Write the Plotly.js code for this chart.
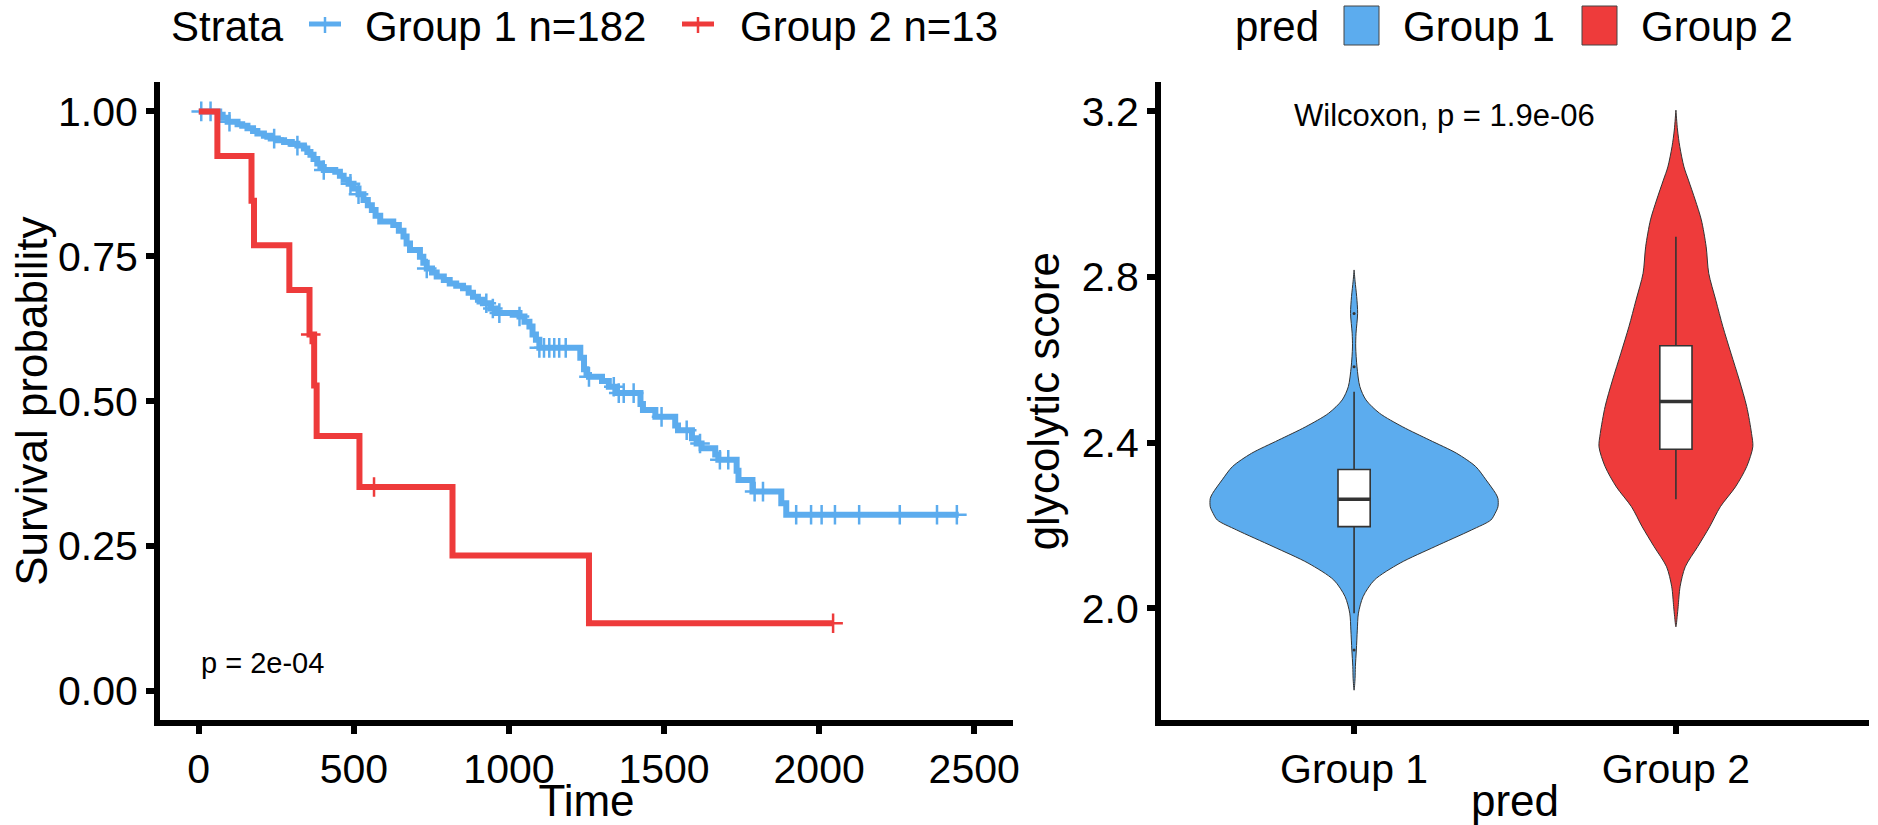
<!DOCTYPE html>
<html><head><meta charset="utf-8">
<script src="https://cdn.plot.ly/plotly-3.0.1.min.js"></script>
<style>html,body{margin:0;padding:0;background:#fff}#chart{width:1878px;height:825px}</style>
</head><body><div id="chart"></div>
<script>
// ---------- data ----------
const groups = ['Group 1', 'Group 2'];
const nPatients = [182, 13];
const groupColors = ['#5CACEE', '#EE3B3B'];

// Kaplan-Meier step curves (time of drop, survival after drop)
const blueTime = [0, 66, 77, 93, 125, 140, 157, 175, 189, 210, 232, 255, 275, 300, 318, 339, 350, 360, 370, 382, 392, 403, 440, 455, 467, 483, 499, 515, 531, 545, 558, 570, 585, 627, 645, 660, 670, 681, 713, 724, 735, 752, 767, 790, 809, 830, 852, 870, 884, 900, 916, 940, 959, 1034, 1050, 1066, 1076, 1087, 1098, 1230, 1242, 1250, 1258, 1300, 1322, 1344, 1424, 1432, 1472, 1536, 1545, 1590, 1605, 1621, 1665, 1675, 1734, 1740, 1785, 1878, 1894, 2450];
const blueSurv = [1, 0.994, 0.989, 0.982, 0.978, 0.975, 0.971, 0.966, 0.962, 0.958, 0.953, 0.950, 0.947, 0.944, 0.941, 0.936, 0.930, 0.925, 0.918, 0.910, 0.904, 0.899, 0.896, 0.889, 0.882, 0.875, 0.867, 0.857, 0.847, 0.838, 0.830, 0.820, 0.810, 0.804, 0.794, 0.784, 0.772, 0.761, 0.749, 0.739, 0.729, 0.722, 0.715, 0.709, 0.703, 0.699, 0.695, 0.687, 0.680, 0.675, 0.669, 0.660, 0.652, 0.646, 0.637, 0.629, 0.615, 0.606, 0.592, 0.575, 0.555, 0.545, 0.542, 0.535, 0.525, 0.514, 0.495, 0.485, 0.473, 0.458, 0.450, 0.436, 0.427, 0.419, 0.408, 0.399, 0.380, 0.364, 0.344, 0.324, 0.304, 0.304];
const blueCensor = [8, 38, 99, 243, 318, 403, 489, 515, 735, 927, 948, 969, 1034, 1098, 1113, 1130, 1146, 1162, 1183, 1258, 1338, 1354, 1370, 1402, 1492, 1573, 1616, 1680, 1707, 1792, 1819, 1926, 1974, 2008, 2051, 2129, 2260, 2380, 2444];

const redTime = [0, 60, 170, 178, 292, 357, 372, 380, 518, 818, 1258, 2045];
const redSurv = [1, 0.923, 0.846, 0.769, 0.692, 0.615, 0.527, 0.440, 0.352, 0.234, 0.117, 0.117];
const redCensor = [361, 565, 2045];

const survPText = 'p = 2e-04';

// violin density profiles (score level, half-width in category units)
const g1Level = [1.802, 1.83, 1.859, 1.899, 1.947, 1.988, 2.028, 2.068, 2.109, 2.149, 2.189, 2.213, 2.229, 2.245, 2.265, 2.277, 2.310, 2.342, 2.374, 2.406, 2.438, 2.471, 2.503, 2.535, 2.583, 2.631, 2.664, 2.712, 2.753, 2.79, 2.817];
const g1Half  = [0, 0.003, 0.004, 0.007, 0.010, 0.0135, 0.028, 0.063, 0.143, 0.252, 0.365, 0.425, 0.438, 0.447, 0.447, 0.44, 0.41, 0.378, 0.319, 0.235, 0.151, 0.079, 0.037, 0.018, 0.009, 0.005, 0.006, 0.011, 0.008, 0.003, 0];
const g2Level = [1.955, 1.98, 2.004, 2.052, 2.10, 2.149, 2.197, 2.245, 2.293, 2.342, 2.390, 2.422, 2.487, 2.551, 2.616, 2.680, 2.744, 2.809, 2.873, 2.938, 2.986, 3.034, 3.066, 3.115, 3.155, 3.203];
const g2Half  = [0, 0.004, 0.007, 0.013, 0.029, 0.068, 0.105, 0.138, 0.185, 0.22, 0.239, 0.235, 0.22, 0.197, 0.171, 0.146, 0.124, 0.102, 0.094, 0.079, 0.06, 0.039, 0.025, 0.012, 0.005, 0];

// box statistics
const boxQ1 = [2.197, 2.384];
const boxMedian = [2.263, 2.499];
const boxQ3 = [2.335, 2.634];
const boxLow = [1.988, 2.263];
const boxHigh = [2.523, 2.897];
const g1Outliers = [2.712, 2.583, 1.899];

const wilcoxText = 'Wilcoxon, p = 1.9e-06';

// ---------- helpers ----------
function survAt(times, surv, t) {
  let s = surv[0];
  for (let i = 0; i < times.length; i++) { if (times[i] <= t) s = surv[i]; }
  return s;
}
function violinOutline(pos, level, half) {
  const xs = [], ys = [];
  for (let i = 0; i < level.length; i++) { xs.push(pos + half[i]); ys.push(level[i]); }
  for (let i = level.length - 1; i >= 0; i--) { xs.push(pos - half[i]); ys.push(level[i]); }
  return {x: xs, y: ys};
}

const W = 1878, H = 825;
const px = v => v / W;
const py = v => 1 - v / H;
const FONT = 'Liberation Sans, Arial, sans-serif';
const X2RANGE = [0.4, 2.6];
const Y2RANGE = [1.73, 3.27];

const traces = [];
// KM curves
[[blueTime, blueSurv, blueCensor, 0], [redTime, redSurv, redCensor, 1]].forEach(([t, s, c, gi]) => {
  traces.push({type: 'scatter', mode: 'lines', x: t, y: s, line: {shape: 'hv', color: groupColors[gi], width: 6},
    xaxis: 'x', yaxis: 'y', showlegend: false, hoverinfo: 'skip'});
  traces.push({type: 'scatter', mode: 'markers', x: c, y: c.map(v => survAt(t, s, v)),
    marker: {symbol: 'cross-thin', size: 14, line: {color: groupColors[gi], width: 2.5}},
    xaxis: 'x', yaxis: 'y', showlegend: false, hoverinfo: 'skip'});
});
// violins
[[g1Level, g1Half], [g2Level, g2Half]].forEach(([lv, hw], gi) => {
  const o = violinOutline(gi + 1, lv, hw);
  traces.push({type: 'scatter', mode: 'lines', x: o.x, y: o.y, fill: 'toself', fillcolor: groupColors[gi],
    line: {color: '#333333', width: 1, shape: 'spline', smoothing: 0.8},
    xaxis: 'x2', yaxis: 'y2', showlegend: false, hoverinfo: 'skip'});
});
// boxes (on an overlaid subplot so they sit above the violins)
groups.forEach((g, gi) => {
  traces.push({type: 'box', orientation: 'v', x: [gi + 1], q1: [boxQ1[gi]], median: [boxMedian[gi]], q3: [boxQ3[gi]],
    lowerfence: [boxLow[gi]], upperfence: [boxHigh[gi]], width: 0.1, whiskerwidth: 0,
    fillcolor: '#ffffff', line: {color: '#333333', width: 1.6}, boxpoints: false,
    xaxis: 'x3', yaxis: 'y3', showlegend: false, hoverinfo: 'skip'});
  traces.push({type: 'scatter', mode: 'lines', x: [gi + 1 - 0.05, gi + 1 + 0.05], y: [boxMedian[gi], boxMedian[gi]],
    line: {color: '#333333', width: 3.5}, xaxis: 'x3', yaxis: 'y3', showlegend: false, hoverinfo: 'skip'});
});
traces.push({type: 'scatter', mode: 'markers', x: g1Outliers.map(() => 1), y: g1Outliers,
  marker: {color: '#333333', size: 3}, xaxis: 'x3', yaxis: 'y3', showlegend: false, hoverinfo: 'skip'});

const axisBase = {showgrid: false, zeroline: false, showline: true, linecolor: '#000', linewidth: 6,
  ticks: 'outside', ticklen: 8, tickwidth: 6, tickcolor: '#000',
  tickfont: {family: FONT, size: 41, color: '#000'}, fixedrange: true};
const yDom = [py(720), py(82.4)];

// manual legends (keys + labels)
const shapes = [];
const annotations = [];
function ann(text, x, y, size, extra) {
  return Object.assign({text: text, x: x, y: y, xref: 'paper', yref: 'paper', xanchor: 'left', yanchor: 'middle',
    showarrow: false, font: {family: FONT, size: size, color: '#000'}}, extra || {});
}
annotations.push(ann('Strata', px(169), py(27), 42));
const stratKeyX = [309, 682];
const stratTextX = [363, 738];
groups.forEach((g, gi) => {
  const x0 = stratKeyX[gi];
  shapes.push({type: 'line', xref: 'paper', yref: 'paper', x0: px(x0), x1: px(x0 + 32), y0: py(24), y1: py(24),
    line: {color: groupColors[gi], width: 5}});
  shapes.push({type: 'line', xref: 'paper', yref: 'paper', x0: px(x0 + 16), x1: px(x0 + 16), y0: py(17), y1: py(33),
    line: {color: groupColors[gi], width: 2.5}});
  annotations.push(ann(g + ' n=' + nPatients[gi], px(stratTextX[gi]), py(27), 42));
});
annotations.push(ann('pred', px(1233), py(27), 42));
const predKeyX = [1344, 1582];
const predTextX = [1401, 1639];
groups.forEach((g, gi) => {
  shapes.push({type: 'rect', xref: 'paper', yref: 'paper', x0: px(predKeyX[gi]), x1: px(predKeyX[gi] + 35),
    y0: py(45), y1: py(6), fillcolor: groupColors[gi], line: {color: '#444444', width: 1}});
  annotations.push(ann(g, px(predTextX[gi]), py(27), 42));
});
annotations.push({text: survPText, x: 0, y: 0.048, xref: 'x', yref: 'y', xanchor: 'left', yanchor: 'middle',
  showarrow: false, font: {family: FONT, size: 29, color: '#000'}});
annotations.push({text: wilcoxText, x: 1.281, y: 3.19, xref: 'x2', yref: 'y2', xanchor: 'center', yanchor: 'middle',
  showarrow: false, font: {family: FONT, size: 31, color: '#000'}});

const layout = {
  width: W, height: H, margin: {l: 0, r: 0, t: 0, b: 0},
  paper_bgcolor: '#fff', plot_bgcolor: 'rgba(0,0,0,0)', showlegend: false,
  font: {family: FONT, color: '#000'},
  xaxis: Object.assign({}, axisBase, {domain: [px(160), px(1013)], range: [-125, 2625], tick0: 0, dtick: 500,
    anchor: 'y', title: {text: 'Time', font: {family: FONT, size: 44}}}),
  yaxis: Object.assign({}, axisBase, {domain: yDom, range: [-0.05, 1.05], tick0: 0, dtick: 0.25, tickformat: '.2f',
    anchor: 'x', title: {text: 'Survival probability', font: {family: FONT, size: 44}}}),
  xaxis2: Object.assign({}, axisBase, {domain: [px(1161), px(1869)], range: X2RANGE, tickvals: [1, 2], ticktext: groups,
    anchor: 'y2', title: {text: 'pred', font: {family: FONT, size: 44}}}),
  yaxis2: Object.assign({}, axisBase, {domain: yDom, range: Y2RANGE, tick0: 2.0, dtick: 0.4, tickformat: '.1f',
    anchor: 'x2', automargin: true, title: {text: 'glycolytic score', font: {family: FONT, size: 44}, standoff: 10}}),
  xaxis3: {overlaying: 'x2', anchor: 'y3', range: X2RANGE, visible: false, fixedrange: true},
  yaxis3: {overlaying: 'y2', anchor: 'x3', range: Y2RANGE, visible: false, fixedrange: true},
  shapes: shapes, annotations: annotations
};

Plotly.newPlot('chart', traces, layout, {displayModeBar: false, staticPlot: true});
</script></body></html>
